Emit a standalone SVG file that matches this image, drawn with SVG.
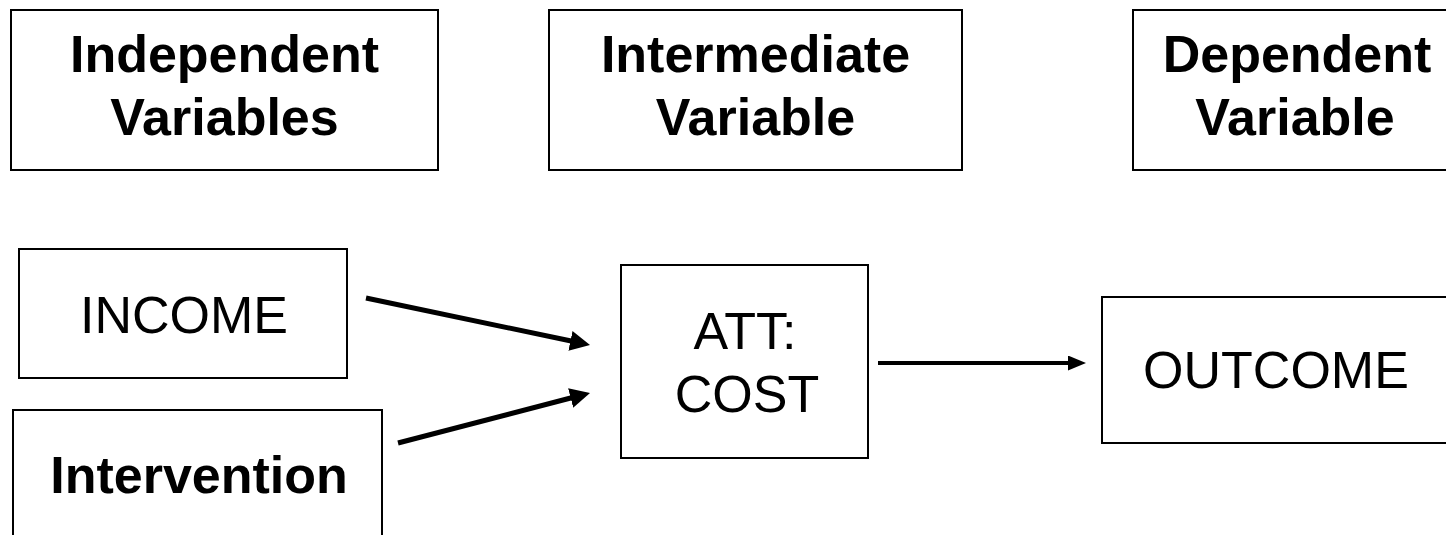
<svg xmlns="http://www.w3.org/2000/svg" width="1446" height="535" viewBox="0 0 1446 535">
  <style>
    .box { fill: #ffffff; stroke: #000000; stroke-width: 2; }
    .hdr { font-family: "Liberation Sans", Arial, sans-serif; font-size: 52px; font-weight: bold; fill: #000000; text-anchor: middle; }
    .lbl { font-family: "Liberation Sans", Arial, sans-serif; font-size: 52px; fill: #000000; text-anchor: middle; }
    .conn { stroke: #000000; fill: none; }
  </style>
  <defs>
    <marker id="headBig" markerUnits="userSpaceOnUse" markerWidth="20" markerHeight="20" refX="2" refY="10" orient="auto">
      <path d="M0,0 L20,10 L0,20 z" fill="#000000"/>
    </marker>
    <marker id="headSmall" markerUnits="userSpaceOnUse" markerWidth="18" markerHeight="15" refX="2" refY="7.5" orient="auto">
      <path d="M0,0 L18,7.5 L0,15 z" fill="#000000"/>
    </marker>
  </defs>
  <rect width="1446" height="535" fill="#ffffff"/>

  <g id="independent-variables">
    <rect class="box" x="11" y="10" width="427" height="160"/>
    <text class="hdr" x="224.5" y="72">Independent</text>
    <text class="hdr" x="224.5" y="135">Variables</text>
  </g>
  <g id="intermediate-variable">
    <rect class="box" x="549" y="10" width="413" height="160"/>
    <text class="hdr" x="755.5" y="72">Intermediate</text>
    <text class="hdr" x="755.5" y="135">Variable</text>
  </g>
  <g id="dependent-variable">
    <rect class="box" x="1133" y="10" width="330" height="160"/>
    <text class="hdr" x="1297" y="72">Dependent</text>
    <text class="hdr" x="1295" y="135">Variable</text>
  </g>

  <g id="income">
    <rect class="box" x="19" y="249" width="328" height="129"/>
    <text class="lbl" x="184" y="333">INCOME</text>
  </g>
  <g id="intervention">
    <rect class="box" x="13" y="410" width="369" height="140"/>
    <text class="hdr" x="199" y="493">Intervention</text>
  </g>
  <g id="att-cost">
    <rect class="box" x="621" y="265" width="247" height="193"/>
    <text class="lbl" x="745" y="349">ATT:</text>
    <text class="lbl" x="747" y="412">COST</text>
  </g>
  <g id="outcome">
    <rect class="box" x="1102" y="297" width="360" height="146"/>
    <text class="lbl" x="1276" y="388">OUTCOME</text>
  </g>

  <g id="connectors">
    <line class="conn" x1="366" y1="298" x2="572.4" y2="341.3" stroke-width="5" marker-end="url(#headBig)"/>
    <line class="conn" x1="398" y1="443" x2="572.6" y2="397.5" stroke-width="5" marker-end="url(#headBig)"/>
    <line class="conn" x1="878" y1="363" x2="1070" y2="363" stroke-width="4" marker-end="url(#headSmall)"/>
  </g>
</svg>
